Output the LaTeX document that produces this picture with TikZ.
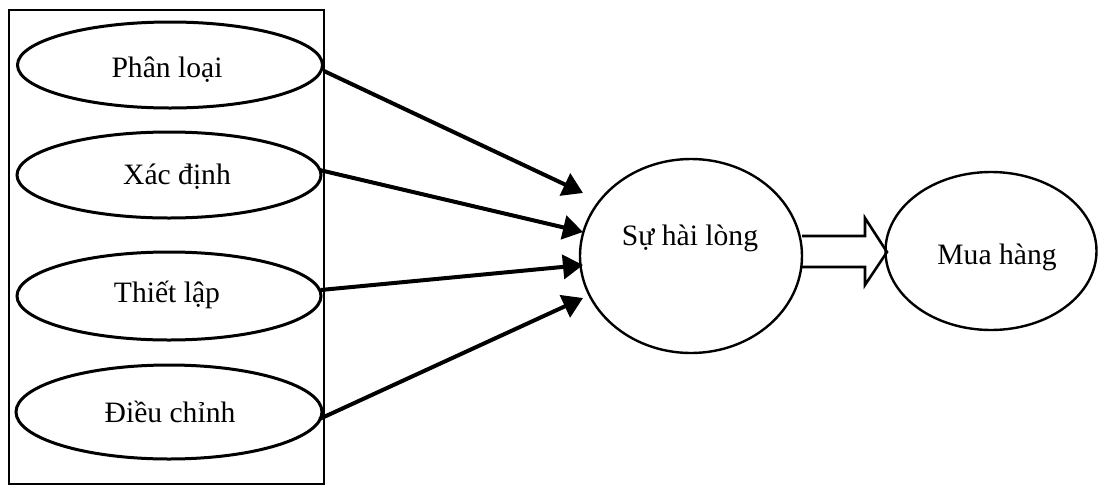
\documentclass[tikz,border=0pt]{standalone}
\usepackage{fontspec}
\setmainfont{Liberation Serif}
\usetikzlibrary{arrows.meta,shapes.geometric}
\begin{document}
\begin{tikzpicture}[x=0.5pt,y=-0.5pt,
  oval/.style={draw,ellipse,line width=1.5pt,inner sep=0pt},
  lbl/.style={font=\fontsize{14.8pt}{17pt}\selectfont,inner sep=0pt},
  arr/.style={line width=2pt,-{Triangle[length=10pt,width=12pt]}},
  dbl/.style={line width=1.3pt,line join=miter}]
\useasboundingbox (0,0) rectangle (1099,488);
% frame
\draw[line width=1pt] (9,10) rectangle (324,484);
% left ovals
\node[oval,minimum width=152.5pt,minimum height=43pt] (a) at (170,65) {};
\node[oval,minimum width=152pt,minimum height=43pt] (b) at (169,175) {};
\node[oval,minimum width=152pt,minimum height=44pt] (c) at (169,296) {};
\node[oval,minimum width=153pt,minimum height=47pt] (d) at (169,412) {};
\node[lbl] at (167,70) {Phân loại};
\node[lbl] at (177,177) {Xác định};
\node[lbl] at (167,295) {Thiết lập};
\node[lbl] at (170,412) {Điều chỉnh};
% central oval
\node[oval,line width=1.2pt,minimum width=111pt,minimum height=97pt] (s) at (691,256) {};
\node[lbl] (st) at (690,238) {Sự hài lòng};
% right oval
\node[oval,line width=1.2pt,minimum width=105.5pt,minimum height=79pt] (m) at (991,251) {};
\node[lbl] (mt) at (997,257) {Mua hàng};
% tips
\coordinate (t1) at (583,193);
\coordinate (t2) at (583,232);
\coordinate (t3) at (583,265);
\coordinate (t4) at (583,298);
\draw[arr] (a.east) ++(0,6) -- (t1);
\draw[arr] (b.east) ++(-3,-5) -- (t2);
\draw[arr] (c.east) ++(-2,-6) -- (t3);
\draw[arr] (d.east) ++(-4,7) -- (t4);
% double arrow
\coordinate (p1) at (802,236);
\coordinate (p2) at (865,236);
\coordinate (p3) at (865,218);
\coordinate (p4) at (887,252);
\coordinate (p5) at (865,285);
\coordinate (p6) at (865,267);
\coordinate (p7) at (802,267);
\draw[dbl] (p1) -- (p2) -- (p3) -- (p4) -- (p5) -- (p6) -- (p7);
\end{tikzpicture}
\end{document}
